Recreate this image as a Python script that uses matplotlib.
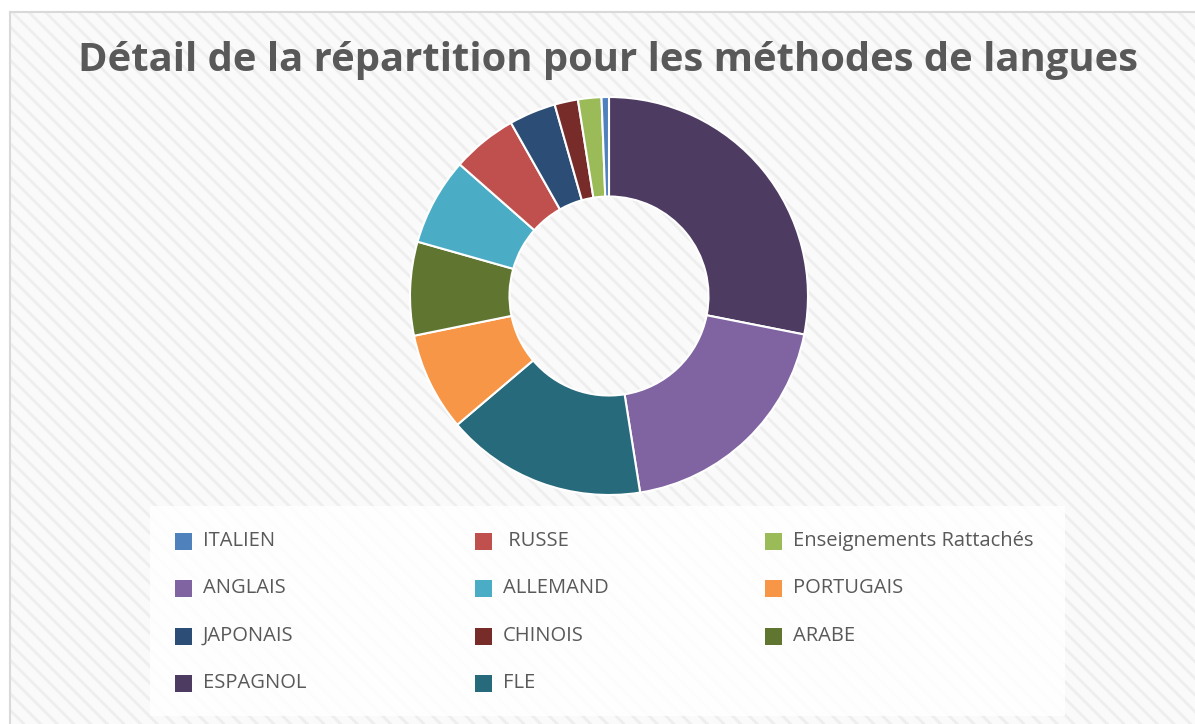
import matplotlib
matplotlib.use("Agg")
import matplotlib.pyplot as plt
from matplotlib.patches import Rectangle

# slices, clockwise from 12 o'clock (values in %)
slice_names = ["ESPAGNOL", "ANGLAIS", "FLE", "PORTUGAIS", "ARABE", "ALLEMAND",
               "RUSSE", "JAPONAIS", "CHINOIS", "Enseignements Rattachés", "ITALIEN"]
slice_values = [28.1, 19.4, 16.3, 8.0, 7.6, 7.1, 5.3, 3.8, 1.9, 1.9, 0.6]

colors = {
    "ITALIEN": "#4F81BD", "RUSSE": "#C0504D", "Enseignements Rattachés": "#9BBB59",
    "ANGLAIS": "#8064A2", "ALLEMAND": "#4BACC6", "PORTUGAIS": "#F79646",
    "JAPONAIS": "#2C4D75", "CHINOIS": "#772C2A", "ARABE": "#5F7530",
    "ESPAGNOL": "#4D3B62", "FLE": "#276A7C",
}

# legend, row by row (3 columns)
legend_order = ["ITALIEN", "RUSSE", "Enseignements Rattachés",
                "ANGLAIS", "ALLEMAND", "PORTUGAIS",
                "JAPONAIS", "CHINOIS", "ARABE",
                "ESPAGNOL", "FLE"]
legend_labels = {"RUSSE": " RUSSE"}

title = "Détail de la répartition pour les méthodes de langues"

W, H = 1195, 724
plt.rcParams["font.family"] = ["Open Sans", "DejaVu Sans"]
plt.rcParams["hatch.linewidth"] = 2.0

fig = plt.figure(figsize=(W / 100, H / 100), dpi=100)
fig.patch.set_facecolor("white")


def px(x, y):
    """pixel coords (top-left origin) -> figure fraction"""
    return x / W, 1 - y / H


# hatched chart area + border
x0, y0 = px(10, 12)
fig.add_artist(Rectangle((x0, 0), 1 - x0, y0, transform=fig.transFigure,
                         facecolor="#fafafa", edgecolor="#eeeeee", lw=0,
                         hatch="\\\\", zorder=0))
fig.add_artist(plt.Line2D([x0, 1], [y0, y0], transform=fig.transFigure,
                          color="#d9d9d9", lw=1.5, zorder=1))
fig.add_artist(plt.Line2D([x0, x0], [0, y0], transform=fig.transFigure,
                          color="#d9d9d9", lw=1.5, zorder=1))

# title
tx, ty = px(608, 71)
fig.text(tx, ty, title, ha="center", va="baseline", fontsize=28.8,
         fontweight="bold", color="#595959")

# donut
cx, cy, r = 609, 296, 199
ax = fig.add_axes([(cx - r) / W, 1 - (cy + r) / H, 2 * r / W, 2 * r / H])
ax.pie(slice_values, colors=[colors[n] for n in slice_names], startangle=90,
       counterclock=False, radius=1.0,
       wedgeprops=dict(width=0.5, edgecolor="white", linewidth=1.5))
ax.set_xlim(-1, 1)
ax.set_ylim(-1, 1)
ax.set_aspect("equal")
ax.axis("off")

# legend box
lx0, ly0 = px(150, 716)
lx1, ly1 = px(1065, 506)
fig.add_artist(Rectangle((lx0, ly0), lx1 - lx0, ly1 - ly0,
                         transform=fig.transFigure, facecolor="white",
                         edgecolor="none", alpha=0.85, zorder=1))

col_x = [175, 475, 765]
row_y = [541, 588, 636, 683]
sq = 17
for i, name in enumerate(legend_order):
    row, col = divmod(i, 3)
    mx, my = col_x[col], row_y[row]
    bx, by = px(mx, my + sq / 2)
    fig.add_artist(Rectangle((bx, by), sq / W, sq / H, transform=fig.transFigure,
                             facecolor=colors[name], edgecolor="none", zorder=2))
    tx, ty = px(mx + sq + 11, my)
    fig.text(tx, ty, legend_labels.get(name, name), ha="left", va="center",
             fontsize=14.5, color="#595959", zorder=3)

fig.savefig("out.png", dpi=100)
